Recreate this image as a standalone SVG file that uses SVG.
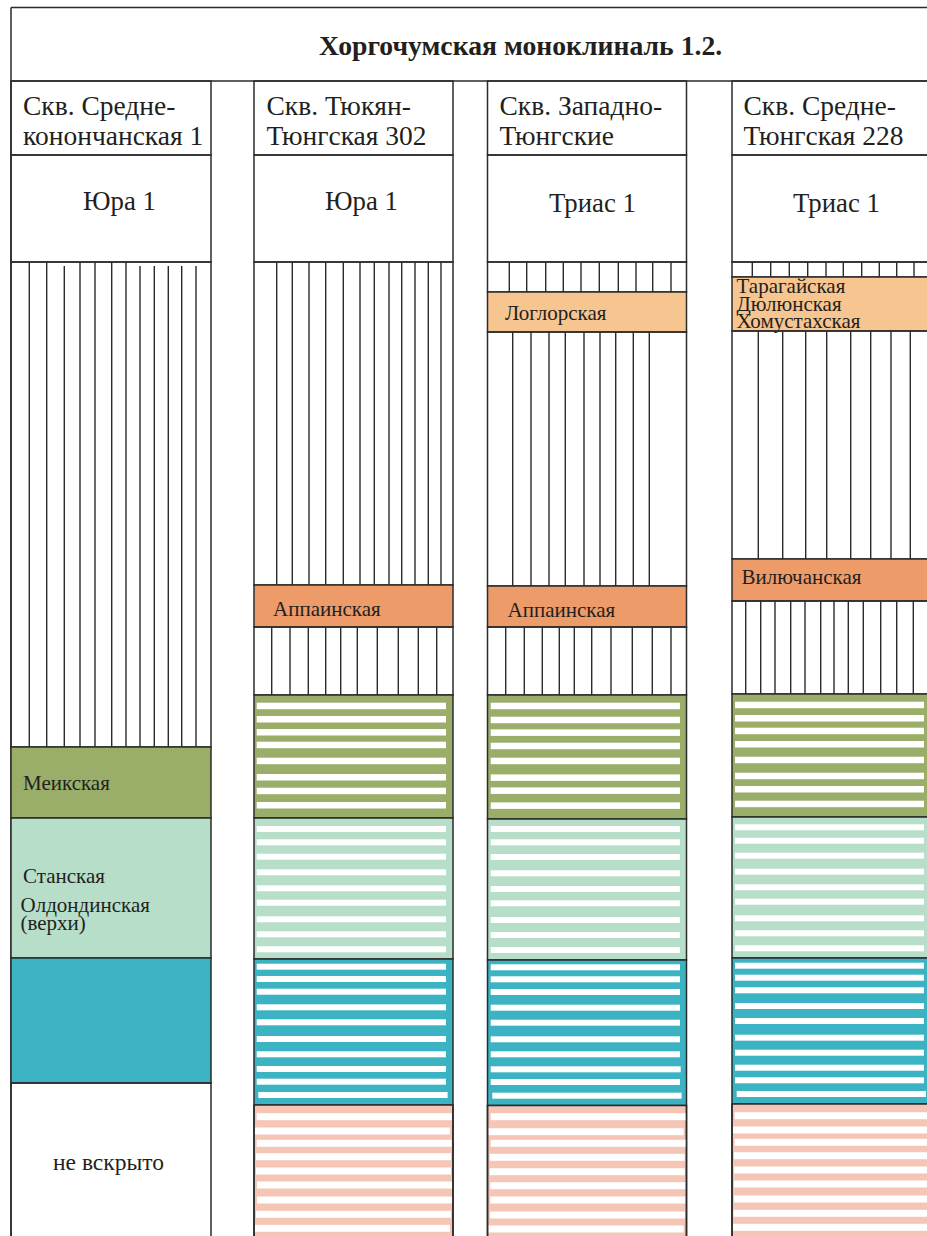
<svg xmlns="http://www.w3.org/2000/svg" width="927" height="1236" viewBox="0 0 927 1236">
<style>
.bd{fill:none;stroke:#2b2b2b;stroke-width:1.5}
.hl{stroke:#2b2b2b;stroke-width:1.4}
.gr{fill:#9aae6a;stroke:#2b2b2b;stroke-width:1.5}
.lg{fill:#b7dec9;stroke:#2b2b2b;stroke-width:1.5}
.tl{fill:#3bb3c3;stroke:#2b2b2b;stroke-width:1.5}
.sa{fill:#f5c5b5;stroke:#2b2b2b;stroke-width:1.5}
.or{fill:#ed9b69;stroke:#2b2b2b;stroke-width:1.5}
.lo{fill:#f6c590;stroke:#2b2b2b;stroke-width:1.5}
.st{fill:#ffffff}
text{font-family:"Liberation Serif","Times New Roman",serif;fill:#231f20}
.ttl{font-size:27.7px;font-weight:bold}
.hd{font-size:27.5px}
.era{font-size:26.8px}
.lb{font-size:21px}
.nv{font-size:23.5px}
</style>
<rect width="927" height="1236" fill="#ffffff"/>
<g id="title">
<path class="bd" d="M11,7.5 H940 M11,81 H940 M11,7.5 V1240"/>
<text class="ttl" x="319" y="55">Хоргочумская моноклиналь 1.2.</text>
</g>

<g id="col1">
<rect class="bd" x="11" y="81" width="200" height="74"/>
<rect class="bd" x="11" y="155" width="200" height="107"/>
<text class="hd" x="23" y="115">Скв. Средне-</text>
<text class="hd" x="23" y="145">конончанская 1</text>
<text class="era" x="83" y="210">Юра 1</text>
<rect class="bd" x="11" y="262" width="200" height="485"/>
<g class="hl">
<path d="M29.3,262V747M46.7,262V747M64.3,266V747M80,262V747M95,262V747M111.7,262V747M126,262V747M140,266V747M154.3,266V747M168.3,266V747M181.7,266V747M196,266V747"/>
</g>
<rect class="gr" x="11" y="747" width="200" height="71"/>
<text class="lb" x="23" y="790">Меикская</text>
<rect class="lg" x="11" y="818" width="200" height="140"/>
<text class="lb" x="23" y="883">Станская</text>
<text class="lb" x="20.5" y="912">Олдондинская</text>
<text class="lb" x="20.5" y="930">(верхи)</text>
<rect class="tl" x="11" y="958" width="200" height="125"/>
<rect class="bd" x="11" y="1083" width="200" height="160"/>
<text class="nv" x="53" y="1170">не вскрыто</text>
</g>

<g id="col2">
<rect class="bd" x="254" y="81" width="199" height="74"/>
<rect class="bd" x="254" y="155" width="199" height="107"/>
<text class="hd" x="266.5" y="115">Скв. Тюкян-</text>
<text class="hd" x="266.5" y="145">Тюнгская 302</text>
<text class="era" x="325" y="210">Юра 1</text>
<rect class="bd" x="254" y="262" width="199" height="323"/>
<path class="hl" d="M276.7,262V585M292.3,262V585M309,262V585M325.7,262V585M343.3,262V585M360,262V585M374.3,262V585M389,262V585M401.7,262V585M415,262V585M428.3,262V585M441,262V585"/>
<rect class="or" x="254" y="585" width="199" height="42"/>
<text class="lb" x="273" y="616">Аппаинская</text>
<rect class="bd" x="254" y="627" width="199" height="68"/>
<path class="hl" d="M271.7,627V695M290,627V695M308.3,627V695M325.7,627V695M340.7,627V695M357.3,627V695M377.3,627V695M398.3,627V695M418.3,627V695M436.7,627V695"/>
<rect class="gr" x="254" y="695" width="199" height="123"/>
<g class="st">
<rect x="256.7" y="702.7" width="189.3" height="6.5"/><rect x="256.7" y="716" width="189.3" height="6.5"/><rect x="256.7" y="729" width="189.3" height="6.5"/><rect x="256.7" y="741.7" width="189.3" height="6.5"/><rect x="256.7" y="757.7" width="189.3" height="6.5"/><rect x="256.7" y="774" width="189.3" height="6.5"/><rect x="256.7" y="787.7" width="189.3" height="6.5"/><rect x="256.7" y="802" width="189.3" height="6.5"/>
</g>
<rect class="lg" x="254" y="818" width="199" height="141"/>
<g class="st">
<rect x="256.7" y="826" width="189.3" height="6"/><rect x="256.7" y="839.3" width="189.3" height="6"/><rect x="256.7" y="853.7" width="189.3" height="6"/><rect x="256.7" y="869.3" width="189.3" height="6"/><rect x="256.7" y="885.3" width="189.3" height="6"/><rect x="256.7" y="899.7" width="189.3" height="6"/><rect x="256.7" y="916.3" width="189.3" height="6"/><rect x="256.7" y="931.3" width="189.3" height="6"/><rect x="256.7" y="946.3" width="189.3" height="6"/>
</g>
<rect class="tl" x="254" y="959" width="199" height="146"/>
<g class="st">
<rect x="256.7" y="963.7" width="189.3" height="6"/><rect x="256.7" y="976" width="189.3" height="6"/><rect x="256.7" y="988.7" width="189.3" height="6"/><rect x="256.7" y="1004.3" width="189.3" height="6"/><rect x="256.7" y="1019.3" width="189.3" height="6"/><rect x="256.7" y="1036" width="189.3" height="6"/><rect x="256.7" y="1051.3" width="189.3" height="6"/><rect x="256.7" y="1066" width="189.3" height="6"/><rect x="256.7" y="1078.7" width="189.3" height="6"/><rect x="258.3" y="1092" width="189.3" height="6"/>
</g>
<rect class="sa" x="254" y="1105" width="199" height="140"/>
<g class="st">
<rect x="256.7" y="1113.2" width="195" height="7"/><rect x="255" y="1127.5" width="195" height="7"/><rect x="256.7" y="1139.8" width="195" height="7"/><rect x="256" y="1153.2" width="195" height="7"/><rect x="256" y="1167.5" width="195" height="7"/><rect x="257" y="1181.5" width="195" height="7"/><rect x="257" y="1196.5" width="195" height="7"/><rect x="256" y="1210.8" width="195" height="7"/><rect x="255" y="1224.8" width="195" height="7"/>
</g>
<path class="bd" d="M254,1105V1240M453,1105V1240"/>
</g>

<g id="col3">
<rect class="bd" x="487.5" y="81" width="199" height="74"/>
<rect class="bd" x="487.5" y="155" width="199" height="107"/>
<text class="hd" x="499.5" y="115">Скв. Западно-</text>
<text class="hd" x="499.5" y="145">Тюнгские</text>
<text class="era" x="549" y="212">Триас 1</text>
<rect class="bd" x="487.5" y="262" width="199" height="30"/>
<path class="hl" d="M509.3,262V292M526.7,262V292M545.7,262V292M563.3,262V292M581,262V292M599.3,262V292M618.3,262V292M636,262V292M652.7,262V292M671,262V292"/>
<rect class="lo" x="487.5" y="292" width="199" height="40"/>
<text class="lb" x="505" y="320">Логлорская</text>
<rect class="bd" x="487.5" y="332" width="199" height="254"/>
<path class="hl" d="M512.7,332V586M531,332V586M549,332V586M565.3,332V586M584,332V586M600,332V586M615.7,332V586M633.3,332V586M649.3,332V586"/>
<rect class="or" x="487.5" y="586" width="199" height="41"/>
<text class="lb" x="507.5" y="617">Аппаинская</text>
<rect class="bd" x="487.5" y="627" width="199" height="68"/>
<path class="hl" d="M505.7,627V695M524.3,627V695M542.3,627V695M559.3,627V695M574.3,627V695M591.7,627V695M611,627V695M632.3,627V695M652.3,627V695M671,627V695"/>
<rect class="gr" x="487.5" y="695" width="199" height="124"/>
<g class="st">
<rect x="490.7" y="702.7" width="189.3" height="6.5"/><rect x="490.7" y="716.7" width="189.3" height="6.5"/><rect x="490.7" y="729.4" width="189.3" height="6.5"/><rect x="490.7" y="742.7" width="189.3" height="6.5"/><rect x="490.7" y="757.7" width="189.3" height="6.5"/><rect x="490.7" y="774.4" width="189.3" height="6.5"/><rect x="490.7" y="787.4" width="189.3" height="6.5"/><rect x="490.7" y="802.4" width="189.3" height="6.5"/>
</g>
<rect class="lg" x="487.5" y="819" width="199" height="141"/>
<g class="st">
<rect x="490.7" y="826" width="189.3" height="6"/><rect x="490.7" y="839.3" width="189.3" height="6"/><rect x="490.7" y="854" width="189.3" height="6"/><rect x="490.7" y="870.3" width="189.3" height="6"/><rect x="490.7" y="886" width="189.3" height="6"/><rect x="490.7" y="900.3" width="189.3" height="6"/><rect x="490.7" y="917" width="189.3" height="6"/><rect x="490.7" y="932" width="189.3" height="6"/><rect x="490.7" y="947" width="189.3" height="6"/>
</g>
<rect class="tl" x="487.5" y="960" width="199" height="145.5"/>
<g class="st">
<rect x="490.7" y="964.3" width="189.3" height="6"/><rect x="490.7" y="976.3" width="189.3" height="6"/><rect x="490.7" y="989" width="189.3" height="6"/><rect x="490.7" y="1004.7" width="189.3" height="6"/><rect x="490.7" y="1019.7" width="189.3" height="6"/><rect x="490.7" y="1036.3" width="189.3" height="6"/><rect x="490.7" y="1051.3" width="189.3" height="6"/><rect x="490.7" y="1066.3" width="190" height="6"/><rect x="490.7" y="1079" width="189.3" height="6"/><rect x="492.3" y="1092.7" width="189.3" height="6"/>
</g>
<rect class="sa" x="487.5" y="1105.5" width="199" height="140"/>
<g class="st">
<rect x="490.7" y="1113.2" width="195" height="7"/><rect x="488.7" y="1128.2" width="195" height="7"/><rect x="490.7" y="1139.8" width="195" height="7"/><rect x="489.7" y="1153.8" width="195" height="7"/><rect x="489.7" y="1168.2" width="195" height="7"/><rect x="490.3" y="1182.2" width="195" height="7"/><rect x="490.3" y="1196.5" width="195" height="7"/><rect x="490" y="1211.5" width="195" height="7"/><rect x="488.7" y="1225.5" width="195" height="7"/>
</g>
<path class="bd" d="M487.5,1105.5V1240M686.5,1105.5V1240"/>
</g>

<g id="col4">
<rect class="bd" x="732" y="81" width="210" height="74"/>
<rect class="bd" x="732" y="155" width="210" height="107"/>
<text class="hd" x="743.5" y="115">Скв. Средне-</text>
<text class="hd" x="743.5" y="145">Тюнгская 228</text>
<text class="era" x="793" y="212">Триас 1</text>
<rect class="bd" x="732" y="262" width="210" height="15"/>
<path class="hl" d="M752.3,262V277M770.7,262V277M789.3,262V277M807.7,262V277M826,262V277M843.3,262V277M861.7,262V277M879.3,262V277M896.7,262V277M914,262V277"/>
<rect class="lo" x="732" y="277" width="210" height="54"/>
<text class="lb" x="736.5" y="293">Тарагайская</text>
<text class="lb" x="736.5" y="310.5">Дюлюнская</text>
<text class="lb" x="736.5" y="328">Хомустахская</text>
<rect class="bd" x="732" y="331" width="210" height="228"/>
<path class="hl" d="M758.3,331V559M782.7,331V559M805.7,331V559M826.7,331V559M850.7,331V559M870.7,331V559M891,331V559M910.3,331V559"/>
<rect class="or" x="732" y="559" width="210" height="42"/>
<text class="lb" x="741.5" y="584">Вилючанская</text>
<rect class="bd" x="732" y="601" width="210" height="93"/>
<path class="hl" d="M745.7,601V694M760.7,601V694M775,601V694M790.7,601V694M805,601V694M820.7,601V694M834,601V694M848.3,601V694M863.3,601V694M880.7,601V694M896.7,601V694M913.3,601V694"/>
<rect class="gr" x="732" y="694" width="210" height="123"/>
<g class="st">
<rect x="735" y="701.7" width="189" height="6.5"/><rect x="735" y="715" width="189" height="6.5"/><rect x="735" y="727.7" width="189" height="6.5"/><rect x="735" y="741" width="189" height="6.5"/><rect x="735" y="756.7" width="189" height="6.5"/><rect x="735" y="772.7" width="189" height="6.5"/><rect x="735" y="786" width="189" height="6.5"/><rect x="735" y="800.7" width="189" height="6.5"/>
</g>
<rect class="lg" x="732" y="817" width="210" height="141"/>
<g class="st">
<rect x="735" y="824.3" width="189" height="6"/><rect x="735" y="837.7" width="189" height="6"/><rect x="735" y="852.7" width="189" height="6"/><rect x="735" y="868.7" width="189" height="6"/><rect x="735" y="884.3" width="189" height="6"/><rect x="735" y="898.7" width="189" height="6"/><rect x="735" y="915.3" width="189" height="6"/><rect x="735" y="930.3" width="189" height="6"/><rect x="735" y="945.3" width="189" height="6"/>
</g>
<rect class="tl" x="732" y="958" width="210" height="146"/>
<g class="st">
<rect x="735" y="962.7" width="189" height="6"/><rect x="735" y="974.7" width="189" height="6"/><rect x="735" y="987.3" width="189" height="6"/><rect x="735" y="1003" width="189" height="6"/><rect x="735" y="1018" width="189" height="6"/><rect x="735" y="1034.7" width="189" height="6"/><rect x="735" y="1049.7" width="189" height="6"/><rect x="735" y="1064.7" width="189" height="6"/><rect x="735" y="1077.3" width="189" height="6"/><rect x="736.7" y="1091" width="189.3" height="6"/>
</g>
<rect class="sa" x="732" y="1104" width="210" height="140"/>
<g class="st">
<rect x="734.5" y="1112.2" width="200" height="7"/><rect x="733" y="1126.5" width="200" height="7"/><rect x="734.5" y="1138.8" width="200" height="7"/><rect x="734" y="1152.2" width="200" height="7"/><rect x="734" y="1166.5" width="200" height="7"/><rect x="734" y="1180.5" width="200" height="7"/><rect x="734" y="1195.5" width="200" height="7"/><rect x="733.5" y="1209.8" width="200" height="7"/><rect x="733" y="1223.8" width="200" height="7"/>
</g>
<path class="bd" d="M732,1104V1240"/>
</g>
</svg>
